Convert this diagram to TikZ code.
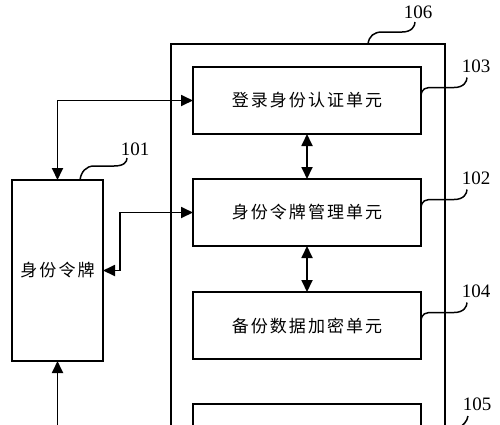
\documentclass[tikz,border=0pt]{standalone}
\usepackage{fontspec}
\setmainfont{Liberation Serif}
\newfontfamily\cjk[LetterSpace=12]{Noto Sans CJK SC}
\usetikzlibrary{arrows.meta}
\tikzset{
  x=1pt, y=-1pt,
  box/.style={draw, line width=1.8pt, rectangle, inner sep=0pt, outer sep=0pt, anchor=north west,
    font=\cjk\fontsize{17}{17}\selectfont},
  conn/.style={line width=1.8pt, {Triangle[length=12pt,width=11pt]}-{Triangle[length=12pt,width=11pt]}},
  oneway/.style={line width=1.8pt, -{Triangle[length=12pt,width=11pt]}},
  lead/.style={line width=1.5pt},
  lab/.style={inner sep=0pt, font=\fontsize{19}{19}\selectfont}
}
\begin{document}
\begin{tikzpicture}
\useasboundingbox (0,0) rectangle (500,424);
\clip (0,0) rectangle (500,424);
% outer box 106
\node[box, minimum width=274pt, minimum height=420pt] (o106) at (171,44) {};
% unit boxes
\node[box, minimum width=228pt, minimum height=67pt] (b103) at (193,67) {登录身份认证单元};
\node[box, minimum width=228pt, minimum height=67pt] (b102) at (193,179) {身份令牌管理单元};
\node[box, minimum width=228pt, minimum height=67pt] (b104) at (193,292) {备份数据加密单元};
\node[box, minimum width=228pt, minimum height=60pt] (b105) at (193,404) {};
% token
\node[box, minimum width=91pt, minimum height=181pt] (tok) at (12,180) {身份令牌};
% labels
\node[lab] (l106) at (418,12) {106};
\node[lab] (l103) at (476,66) {103};
\node[lab] (l102) at (476,178.5) {102};
\node[lab] (l104) at (476,291) {104};
\node[lab] (l105) at (477,404) {105};
\node[lab] (l101) at (135,149) {101};
% connectors
\draw[conn] (tok.north) |- (b103.west);
\draw[conn] (tok.east) -- ++(17,0) |- (b102.west);
\coordinate (src) at (57.5,440);
\draw[oneway] (src) -- (tok.south);
\draw[conn] (b103.south) -- (b102.north);
\draw[conn] (b102.south) -- (b104.north);
% leaders
\foreach \n in {b103,b102,b104}
  \draw[lead] ([yshift=5pt]\n.east) .. controls +(1,-7) and +(-8,0) .. ++(12,-8) -- ++(21,0)
     .. controls +(10,0) and +(0,4) .. ++(13,-10);
\draw[lead] ([xshift=197pt]o106.north west) .. controls +(1,-8) and +(-8,0) .. ++(14,-12) -- ++(20,0)
     .. controls +(10,0) and +(0,4) .. ++(13,-10);
\draw[lead] ([xshift=-23pt]tok.north east) .. controls +(1,-8) and +(-8,0) .. ++(14,-14) -- ++(20,0)
     .. controls +(10,0) and +(0,4) .. ++(13,-8);
\coordinate (c105) at (468,416);
\draw[lead] (c105) .. controls +(-1,6) and +(4,-3) .. ++(-9,12);
\end{tikzpicture}
\end{document}
